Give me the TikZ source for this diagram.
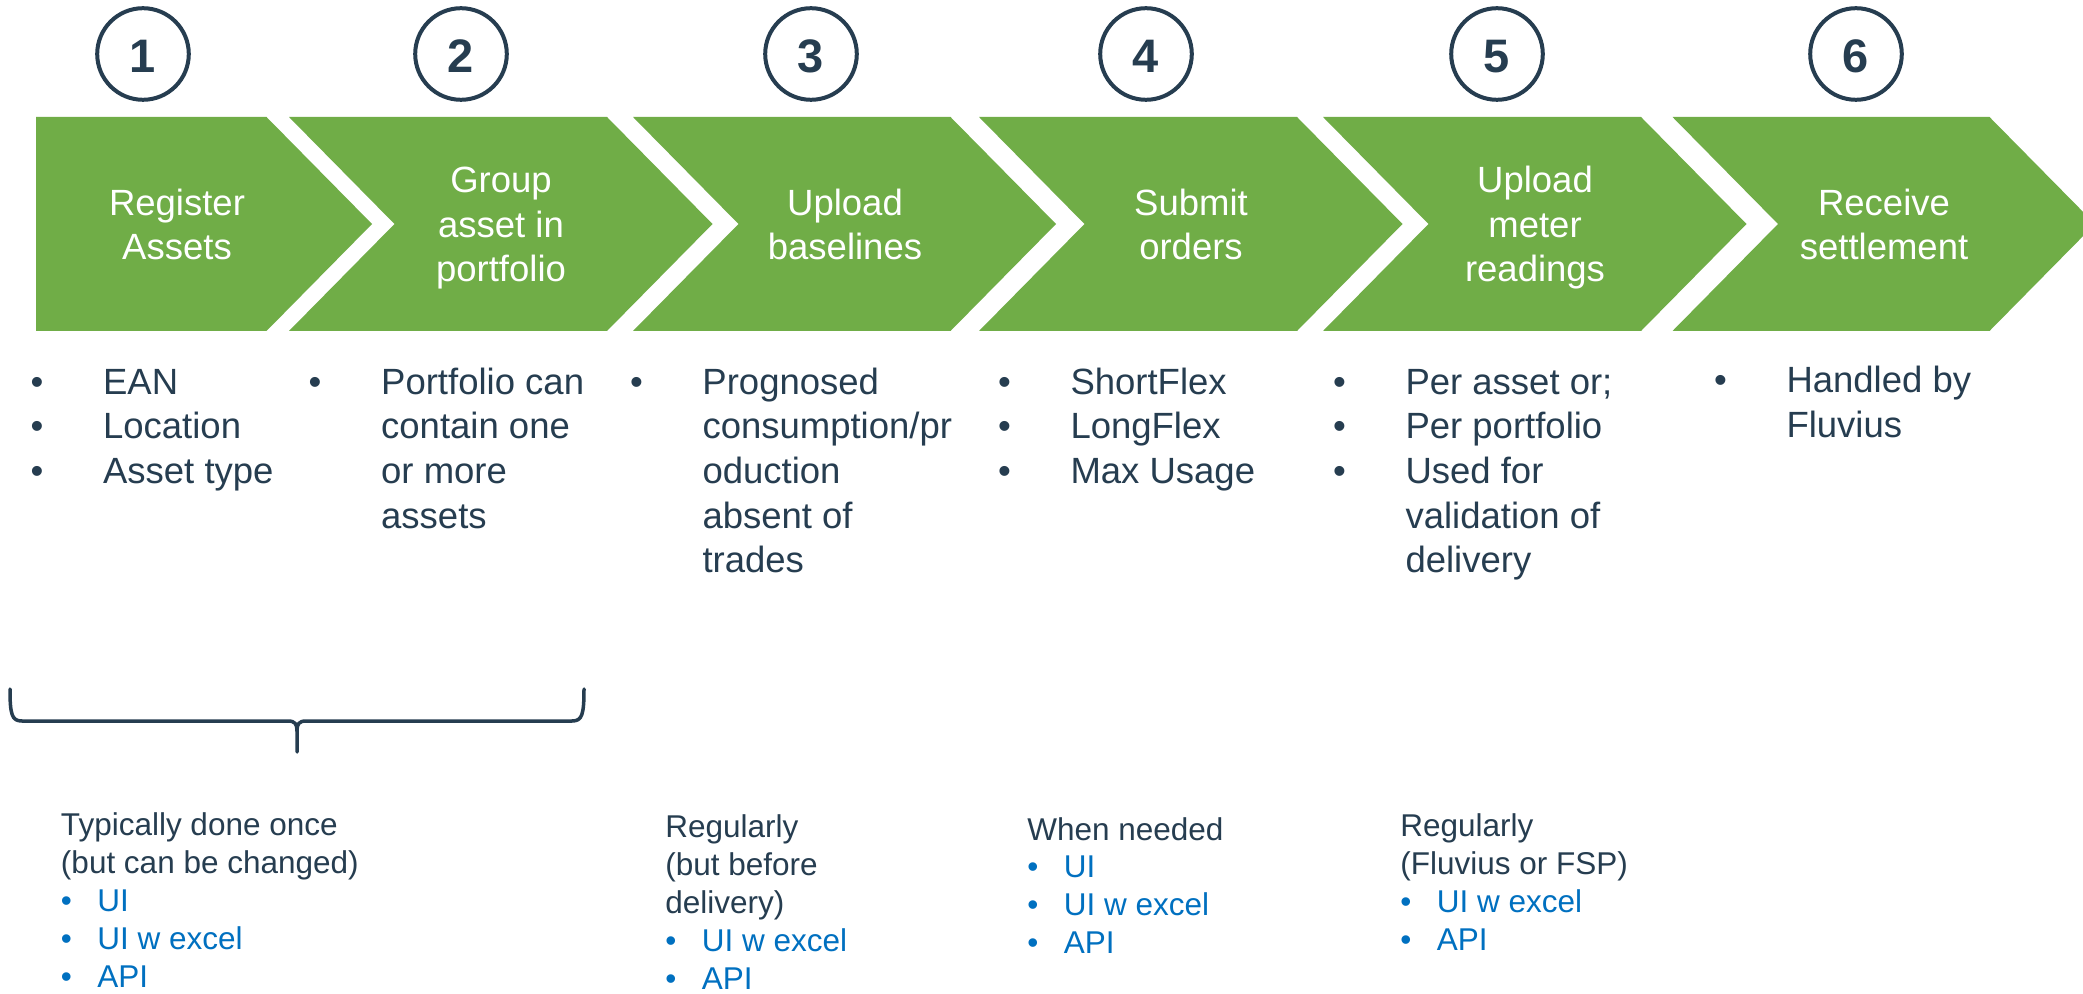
\documentclass[tikz,border=0pt]{standalone}
\usepackage{fontspec}
\setmainfont{Liberation Sans}
\definecolor{dk}{HTML}{263D50}
\definecolor{gr}{HTML}{70AD47}
\definecolor{bl}{HTML}{0070C0}
\newcommand\mybul{\makebox[36.25pt][l]{•}}
\newcommand\mynob{\makebox[36.25pt]{}}
\newcommand\myblue[1]{\textcolor{bl}{\makebox[18.2pt][l]{•}#1}}
\begin{document}
\begin{tikzpicture}[x=0.5pt,y=-0.5pt,
  chev/.style={fill=gr},
  ctext/.style={text=white,align=center,inner sep=0pt,anchor=base,font=\fontsize{18.25}{22.25}\selectfont},
  numc/.style={circle,draw=dk,line width=2pt,minimum size=45.8pt,inner sep=0pt,text=dk,
     font=\fontsize{23.5}{23.5}\selectfont\bfseries,text height=19pt,text depth=0pt},
  toplist/.style={text=dk,align=left,inner sep=0pt,anchor=base west,font=\fontsize{18.25}{22.25}\selectfont},
  botlist/.style={text=dk,align=left,inner sep=0pt,anchor=base west,font=\fontsize{15.75}{18.9}\selectfont},
  brace/.style={draw=dk,line width=1.75pt,line cap=round,line join=round}
]
\clip (0,0) rectangle (2083,994);
\fill[white] (0,0) rectangle (2083,994);
% chevrons
\fill[chev] (36,117) -- (266.5,117) -- (372,224) -- (266.5,331) -- (36,331) -- cycle;
\foreach \s/\e in {289/607, 633/950.5, 979/1297, 1323/1641, 1672.5/1989.5}{
  \fill[chev] (\s,117) -- (\e,117) -- (\e+105.5,224) -- (\e,331) -- (\s,331) -- (\s+105.5,224) -- cycle;
}
% chevron texts (anchor = baseline of last line)
\node[ctext] (t1) at (177,260) {Register\\Assets};
\node[ctext] (t2) at (501,281.7) {Group\\asset in\\portfolio};
\node[ctext] (t3) at (845,260) {Upload\\baselines};
\node[ctext] (t4) at (1191,260) {Submit\\orders};
\node[ctext] (t5) at (1535,281.7) {Upload\\meter\\readings};
\node[ctext] (t6) at (1884,260) {Receive\\settlement};
% numbered circles
\node[numc] (c1) at (143,54) {1};
\node[numc] (c2) at (461,54) {2};
\node[numc] (c3) at (811,54) {3};
\node[numc] (c4) at (1146,54) {4};
\node[numc] (c5) at (1497,54) {5};
\node[numc] (c6) at (1856,54) {6};
% top lists
\node[toplist] (l1) at (30.2,483.5) {\mybul EAN\\\mybul Location\\\mybul Asset type};
\node[toplist] (l2) at (308.3,528) {\mybul Portfolio can\\\mynob contain one\\\mynob or more\\\mynob assets};
\node[toplist] (l3) at (629.6,572.5) {\mybul Prognosed\\\mynob consumption/pr\\\mynob oduction\\\mynob absent of\\\mynob trades};
\node[toplist] (l4) at (997.6,483.5) {\mybul ShortFlex\\\mybul LongFlex\\\mybul Max Usage};
\node[toplist] (l5) at (1332.6,572.5) {\mybul Per asset or;\\\mybul Per portfolio\\\mybul Used for\\\mynob validation of\\\mynob delivery};
\node[toplist] (l6) at (1713.6,437.5) {\mybul Handled by\\\mynob Fluvius};
% brace
\coordinate (bl0) at (10,689);
\coordinate (br0) at (584,689);
\coordinate (bm) at (297,752);
\draw[brace] (bl0) .. controls (10,715) and (12,721) .. (22,721) -- (288,721)
   .. controls (295,721) and (297,724) .. (297,731) -- (bm);
\draw[brace] (br0) .. controls (584,715) and (582,721) .. (572,721) -- (306,721)
   .. controls (299,721) and (297,724) .. (297,731);
% bottom lists
\node[botlist] (b1) at (60.6,987) {Typically done once\\(but can be changed)\\\myblue{UI}\\\myblue{UI w excel}\\\myblue{API}};
\node[botlist] (b2) at (665,989) {Regularly\\(but before\\delivery)\\\myblue{UI w excel}\\\myblue{API}};
\node[botlist] (b3) at (1027,953.4) {When needed\\\myblue{UI}\\\myblue{UI w excel}\\\myblue{API}};
\node[botlist] (b4) at (1400,950.1) {Regularly\\(Fluvius or FSP)\\\myblue{UI w excel}\\\myblue{API}};
\end{tikzpicture}
\end{document}
